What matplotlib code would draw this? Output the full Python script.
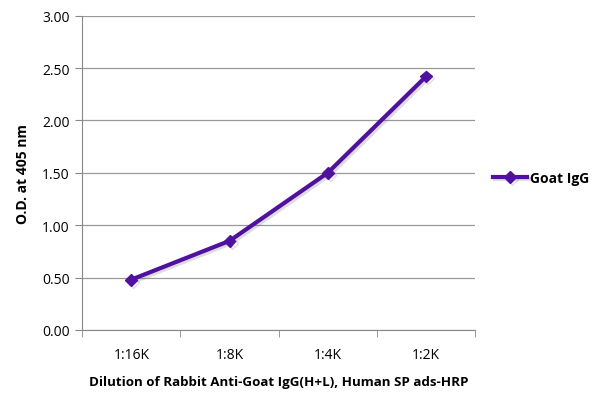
import matplotlib.pyplot as plt
import matplotlib.patheffects as pe

# ELISA data
dilutions = ['1:16K', '1:8K', '1:4K', '1:2K']
od_values = [0.48, 0.85, 1.50, 2.42]
series_name = 'Goat IgG'
yticks = [0.0, 0.5, 1.0, 1.5, 2.0, 2.5, 3.0]

plt.rcParams['font.family'] = ['Open Sans', 'DejaVu Sans']

fig = plt.figure(figsize=(6.0, 4.06), dpi=100)
ax = fig.add_axes([0.137, 0.185, 0.655, 0.774])

x = list(range(len(dilutions)))
ax.plot(x, od_values, color='#5010A0', lw=3, marker='D', ms=6,
        label=series_name,
        path_effects=[pe.SimpleLineShadow(offset=(1.5, -1.5), alpha=0.2, shadow_color='#555555'),
                      pe.Normal()])

ax.set_xlim(-0.5, len(dilutions) - 0.5)
ax.set_ylim(0, 3.0)
ax.set_yticks(yticks)
ax.set_yticklabels([f'{v:.2f}' for v in yticks], fontsize=10)
ax.set_xticks(x)
ax.set_xticklabels(dilutions, fontsize=10)
ax.set_xticks([i - 0.5 for i in range(len(dilutions) + 1)], minor=True)
ax.tick_params(axis='x', which='major', length=0, pad=12)
ax.tick_params(axis='x', which='minor', length=5, color='#888888')
ax.tick_params(axis='y', length=5, color='#888888', pad=4)

ax.grid(axis='y', color='#999999', lw=0.9)
ax.set_axisbelow(True)
for s in ['top', 'right']:
    ax.spines[s].set_visible(False)
for s in ['left', 'bottom']:
    ax.spines[s].set_color('#888888')

ax.set_ylabel('O.D. at 405 nm', fontsize=10, fontweight='bold', labelpad=9)
ax.set_xlabel('Dilution of Rabbit Anti-Goat IgG(H+L), Human SP ads-HRP',
              fontsize=9.6, fontweight='bold', labelpad=10)

fig.legend(loc='center left', bbox_to_anchor=(0.80, 0.56), frameon=False,
           prop={'weight': 'bold', 'size': 10}, handlelength=2.5, handletextpad=0.2)

fig.savefig('out.png', dpi=100)
